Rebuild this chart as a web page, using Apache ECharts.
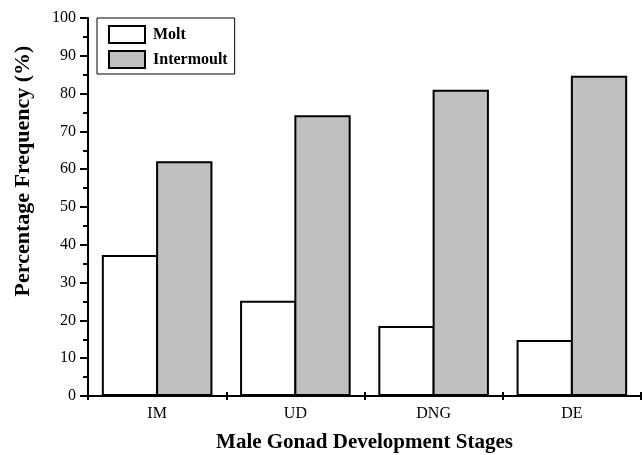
<!DOCTYPE html>
<html>
<head>
<meta charset="utf-8">
<script src="https://cdn.jsdelivr.net/npm/echarts@6/dist/echarts.min.js"></script>
<style>
html,body{margin:0;padding:0;background:#fff;}
#chart{width:643px;height:455px;}
</style>
</head>
<body>
<div id="chart"></div>
<script>
var categories = ['IM', 'UD', 'DNG', 'DE'];
var moltValues = [37.3, 25.2, 18.5, 14.8];
var intermoultValues = [62.1, 74.3, 81.0, 84.7];
var yTicks = [0, 10, 20, 30, 40, 50, 60, 70, 80, 90, 100];

var FONT = '"Liberation Serif", "Times New Roman", serif';
var chart = echarts.init(document.getElementById('chart'));
chart.setOption({
  animation: false,
  backgroundColor: '#fff',
  grid: {left: 88, right: 2, top: 18, bottom: 59, containLabel: false, outerBoundsMode: 'none'},
  legend: {
    orient: 'vertical',
    left: 97, top: 18,
    padding: [7, 7, 5, 11],
    itemWidth: 36, itemHeight: 17, itemGap: 6,
    icon: 'rect',
    borderColor: '#000', borderWidth: 1,
    textStyle: {fontFamily: FONT, fontWeight: 'bold', fontSize: 16, color: '#000', padding: [0, 0, 0, 3]},
    data: ['Molt', 'Intermoult']
  },
  graphic: [{
    type: 'text',
    x: 23, y: 171,
    rotation: Math.PI / 2,
    style: {
      text: 'Percentage Frequency (%)',
      font: 'bold 22px ' + FONT,
      fill: '#000',
      textAlign: 'center',
      textVerticalAlign: 'middle'
    }
  }],
  xAxis: [{
    type: 'category',
    data: categories,
    boundaryGap: true,
    name: 'Male Gonad Development Stages',
    nameLocation: 'middle',
    nameGap: 36,
    nameTextStyle: {fontFamily: FONT, fontWeight: 'bold', fontSize: 21, color: '#000'},
    axisLine: {lineStyle: {color: '#000', width: 2}},
    axisTick: {show: true, length: 4, lineStyle: {color: '#000', width: 2}},
    axisLabel: {fontFamily: FONT, fontSize: 16, color: '#000', margin: 10},
    splitLine: {show: false}
  }, {
    type: 'category',
    data: categories,
    position: 'bottom',
    boundaryGap: true,
    axisLine: {show: false},
    axisTick: {show: true, inside: true, length: 4, lineStyle: {color: '#000', width: 2}},
    axisLabel: {show: false},
    splitLine: {show: false}
  }],
  yAxis: {
    type: 'value',
    min: 0, max: 100, interval: 10,
    axisLine: {show: true, lineStyle: {color: '#000', width: 2}},
    axisTick: {show: true, length: 8, lineStyle: {color: '#000', width: 2}},
    minorTick: {show: true, splitNumber: 2, length: 5, lineStyle: {color: '#000', width: 2}},
    axisLabel: {fontFamily: FONT, fontSize: 16, color: '#000', margin: 12,
      formatter: function (v) { return yTicks.indexOf(v) >= 0 ? String(v) : ''; }},
    splitLine: {show: false}
  },
  series: [{
    name: 'Molt', type: 'bar', data: moltValues,
    barGap: '-3.6%', barCategoryGap: '20%',
    itemStyle: {color: '#fff', borderColor: '#000', borderWidth: 2}
  }, {
    name: 'Intermoult', type: 'bar', data: intermoultValues,
    barGap: '-3.6%', barCategoryGap: '20%',
    itemStyle: {color: '#c0c0c0', borderColor: '#000', borderWidth: 2}
  }]
});
</script>
</body>
</html>
